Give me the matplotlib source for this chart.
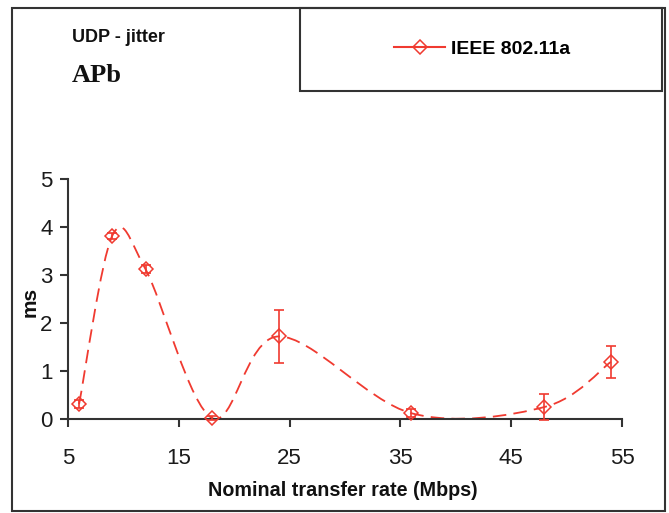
import matplotlib
matplotlib.use("Agg")
import matplotlib.pyplot as plt
from matplotlib.path import Path
from matplotlib.patches import PathPatch, Rectangle
from matplotlib.lines import Line2D
import numpy as np

# Data
rates = [6, 9, 12, 18, 24, 36, 48, 54]
jitter = [0.31, 3.82, 3.12, 0.02, 1.72, 0.12, 0.25, 1.19]
jitter_err = [0.08, 0.06, 0.08, 0.05, 0.56, 0.08, 0.28, 0.33]
x_ticks = [5, 15, 25, 35, 45, 55]
y_ticks = [0, 1, 2, 3, 4, 5]
series_label = "IEEE 802.11a"

RED = "#F03A30"
DARK = "#333333"
NARROW = ["Liberation Sans Narrow", "Liberation Sans", "DejaVu Sans"]

fig = plt.figure(figsize=(6.69, 5.13), dpi=100)
ax = fig.add_axes([68/669, 1-419/513, (622-68)/669, (419-179)/513])

# Smoothed (Excel-like Bezier) line through the data points
pts = np.column_stack([rates, jitter]).astype(float)
n = len(pts)
verts = [tuple(pts[0])]
codes = [Path.MOVETO]
for i in range(n-1):
    p_prev = pts[i-1] if i > 0 else pts[i]
    p0 = pts[i]
    p3 = pts[i+1]
    p_next = pts[i+2] if i+2 < n else pts[i+1]
    c1 = p0 + (p3 - p_prev)/6.0
    c2 = p3 - (p_next - p0)/6.0
    verts += [tuple(c1), tuple(c2), tuple(p3)]
    codes += [Path.CURVE4]*3
patch = PathPatch(Path(verts, codes), facecolor="none", edgecolor=RED,
                  lw=1.3, linestyle=(0, (7.5, 4)), transform=ax.transData)
ax.add_patch(patch)

ax.errorbar(rates, jitter, yerr=jitter_err, fmt="none", ecolor=RED,
            elinewidth=1.2, capsize=3.5, capthick=1.2, clip_on=False, zorder=3)
ax.plot(rates, jitter, linestyle="none", marker="D", ms=7.3, mfc="none",
        mec=RED, mew=1.1, clip_on=False, zorder=4)

ax.set_xlim(5, 55)
ax.set_ylim(0, 5)
ax.set_xticks(x_ticks)
ax.set_yticks(y_ticks)
ax.set_xticklabels([str(v) for v in x_ticks], family=NARROW, fontsize=16)
ax.set_yticklabels([str(v) for v in y_ticks], family=NARROW, fontsize=16)
for s in ["top", "right"]:
    ax.spines[s].set_visible(False)
for s in ["left", "bottom"]:
    ax.spines[s].set_color(DARK)
    ax.spines[s].set_linewidth(1.5)
ax.tick_params(direction="out", length=6, width=1.5, color=DARK, labelcolor="#1a1a1a")
ax.tick_params(axis="x", pad=15)
ax.tick_params(axis="y", pad=5)
ax.set_facecolor("none")

fig.text(343/669, 1-491/513, "Nominal transfer rate (Mbps)", ha="center", va="center",
         family=NARROW, fontweight="bold", fontsize=14.2, color="#111111")
fig.text(30/669, 1-302/513, "ms", ha="center", va="center", rotation=90,
         family=NARROW, fontweight="bold", fontsize=15, color="#111111")

fig.text(72/669, 1-38/513, "UDP - jitter", ha="left", va="center",
         family=NARROW, fontweight="bold", fontsize=13, color="#111111")
fig.text(72/669, 1-76/513, "APb", ha="left", va="center",
         family=["Liberation Serif", "DejaVu Serif"], fontweight="bold", fontsize=19, color="#111111")

# Outer border and legend box
fig.patches.append(Rectangle((12/669, 1-511/513), (665-12)/669, (511-8)/513,
                             transform=fig.transFigure, fill=False, ec=DARK, lw=1.5))
fig.patches.append(Rectangle((300/669, 1-91/513), (662-300)/669, (91-8)/513,
                             transform=fig.transFigure, fill=False, ec=DARK, lw=1.5))

handle = Line2D([], [], color=RED, lw=1.5, marker="D", ms=7.3, mfc="none", mec=RED, mew=1.1)
leg = fig.legend([handle], [series_label], loc="center",
                 bbox_to_anchor=(482/669, 1-49/513), frameon=False,
                 prop={"family": NARROW, "weight": "bold", "size": 14},
                 handlelength=2.6, handletextpad=0.3)

fig.savefig("out.png", dpi=100, facecolor="white")
